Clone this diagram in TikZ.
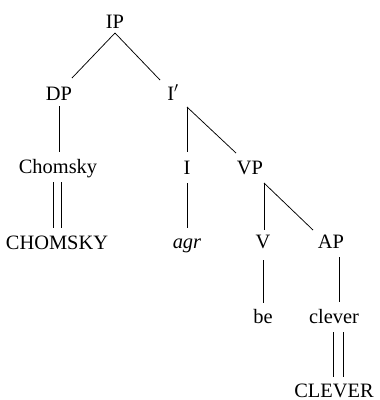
\documentclass[tikz,border=0pt]{standalone}
\usepackage{fontspec}
\setmainfont{Liberation Serif}
\usetikzlibrary{calc}
\begin{document}
\begin{tikzpicture}[x=1bp,y=-1bp,
  lbl/.style={font=\fontsize{20.5}{24}\selectfont, inner sep=0pt, anchor=base},
  edge/.style={line width=0.75pt}]
\useasboundingbox (0,0) rectangle (380,400);
\node[lbl] (IP) at (115,28) {IP};
\node[lbl] (DP) at (59,100) {DP};
\node[lbl] (Ib) at (173,100) {I$'$};
\node[lbl] (Chomsky) at (58,173) {Chomsky};
\node[lbl] (I) at (187,174) {I};
\node[lbl] (VP) at (250,174) {VP};
\node[lbl] (CHOMSKY) at (57,249) {CHOMSKY};
\node[lbl] (agr) at (187,248) {\textit{agr}};
\node[lbl] (V) at (263,248) {V};
\node[lbl] (AP) at (331,248) {AP};
\node[lbl] (be) at (263,323) {be};
\node[lbl] (clever) at (334,323) {clever};
\node[lbl] (CLEVER) at (334,397) {CLEVER};
% edges
\draw[edge] ($(IP.base)+(0,5)$) -- ($(DP.base)+(13,-22)$);
\draw[edge] ($(IP.base)+(0,5)$) -- ($(Ib.base)+(-13,-20)$);
\draw[edge] ($(DP.base)+(0,6)$) -- ($(Chomsky.base)+(1,-21)$);
\draw[edge] ($(Chomsky.base)+(-5,9)$) -- ($(CHOMSKY.base)+(-4,-21)$);
\draw[edge] ($(Chomsky.base)+(3,9)$) -- ($(CHOMSKY.base)+(4,-21)$);
\draw[edge] ($(Ib.base)+(14,7)$) -- ($(I.base)+(0,-22)$);
\draw[edge] ($(Ib.base)+(14,7)$) -- ($(VP.base)+(-14,-21)$);
\draw[edge] ($(I.base)+(0,9)$) -- ($(agr.base)+(0,-20)$);
\draw[edge] ($(VP.base)+(14,9)$) -- ($(V.base)+(1,-18)$);
\draw[edge] ($(VP.base)+(14,9)$) -- ($(AP.base)+(-18,-18)$);
\draw[edge] ($(V.base)+(0,12)$) -- ($(be.base)+(0,-20)$);
\draw[edge] ($(AP.base)+(8,9)$) -- ($(clever.base)+(5,-21)$);
\draw[edge] ($(clever.base)+(-1,9)$) -- ($(CLEVER.base)+(-1,-20)$);
\draw[edge] ($(clever.base)+(9,9)$) -- ($(CLEVER.base)+(9,-20)$);
\end{tikzpicture}
\end{document}
